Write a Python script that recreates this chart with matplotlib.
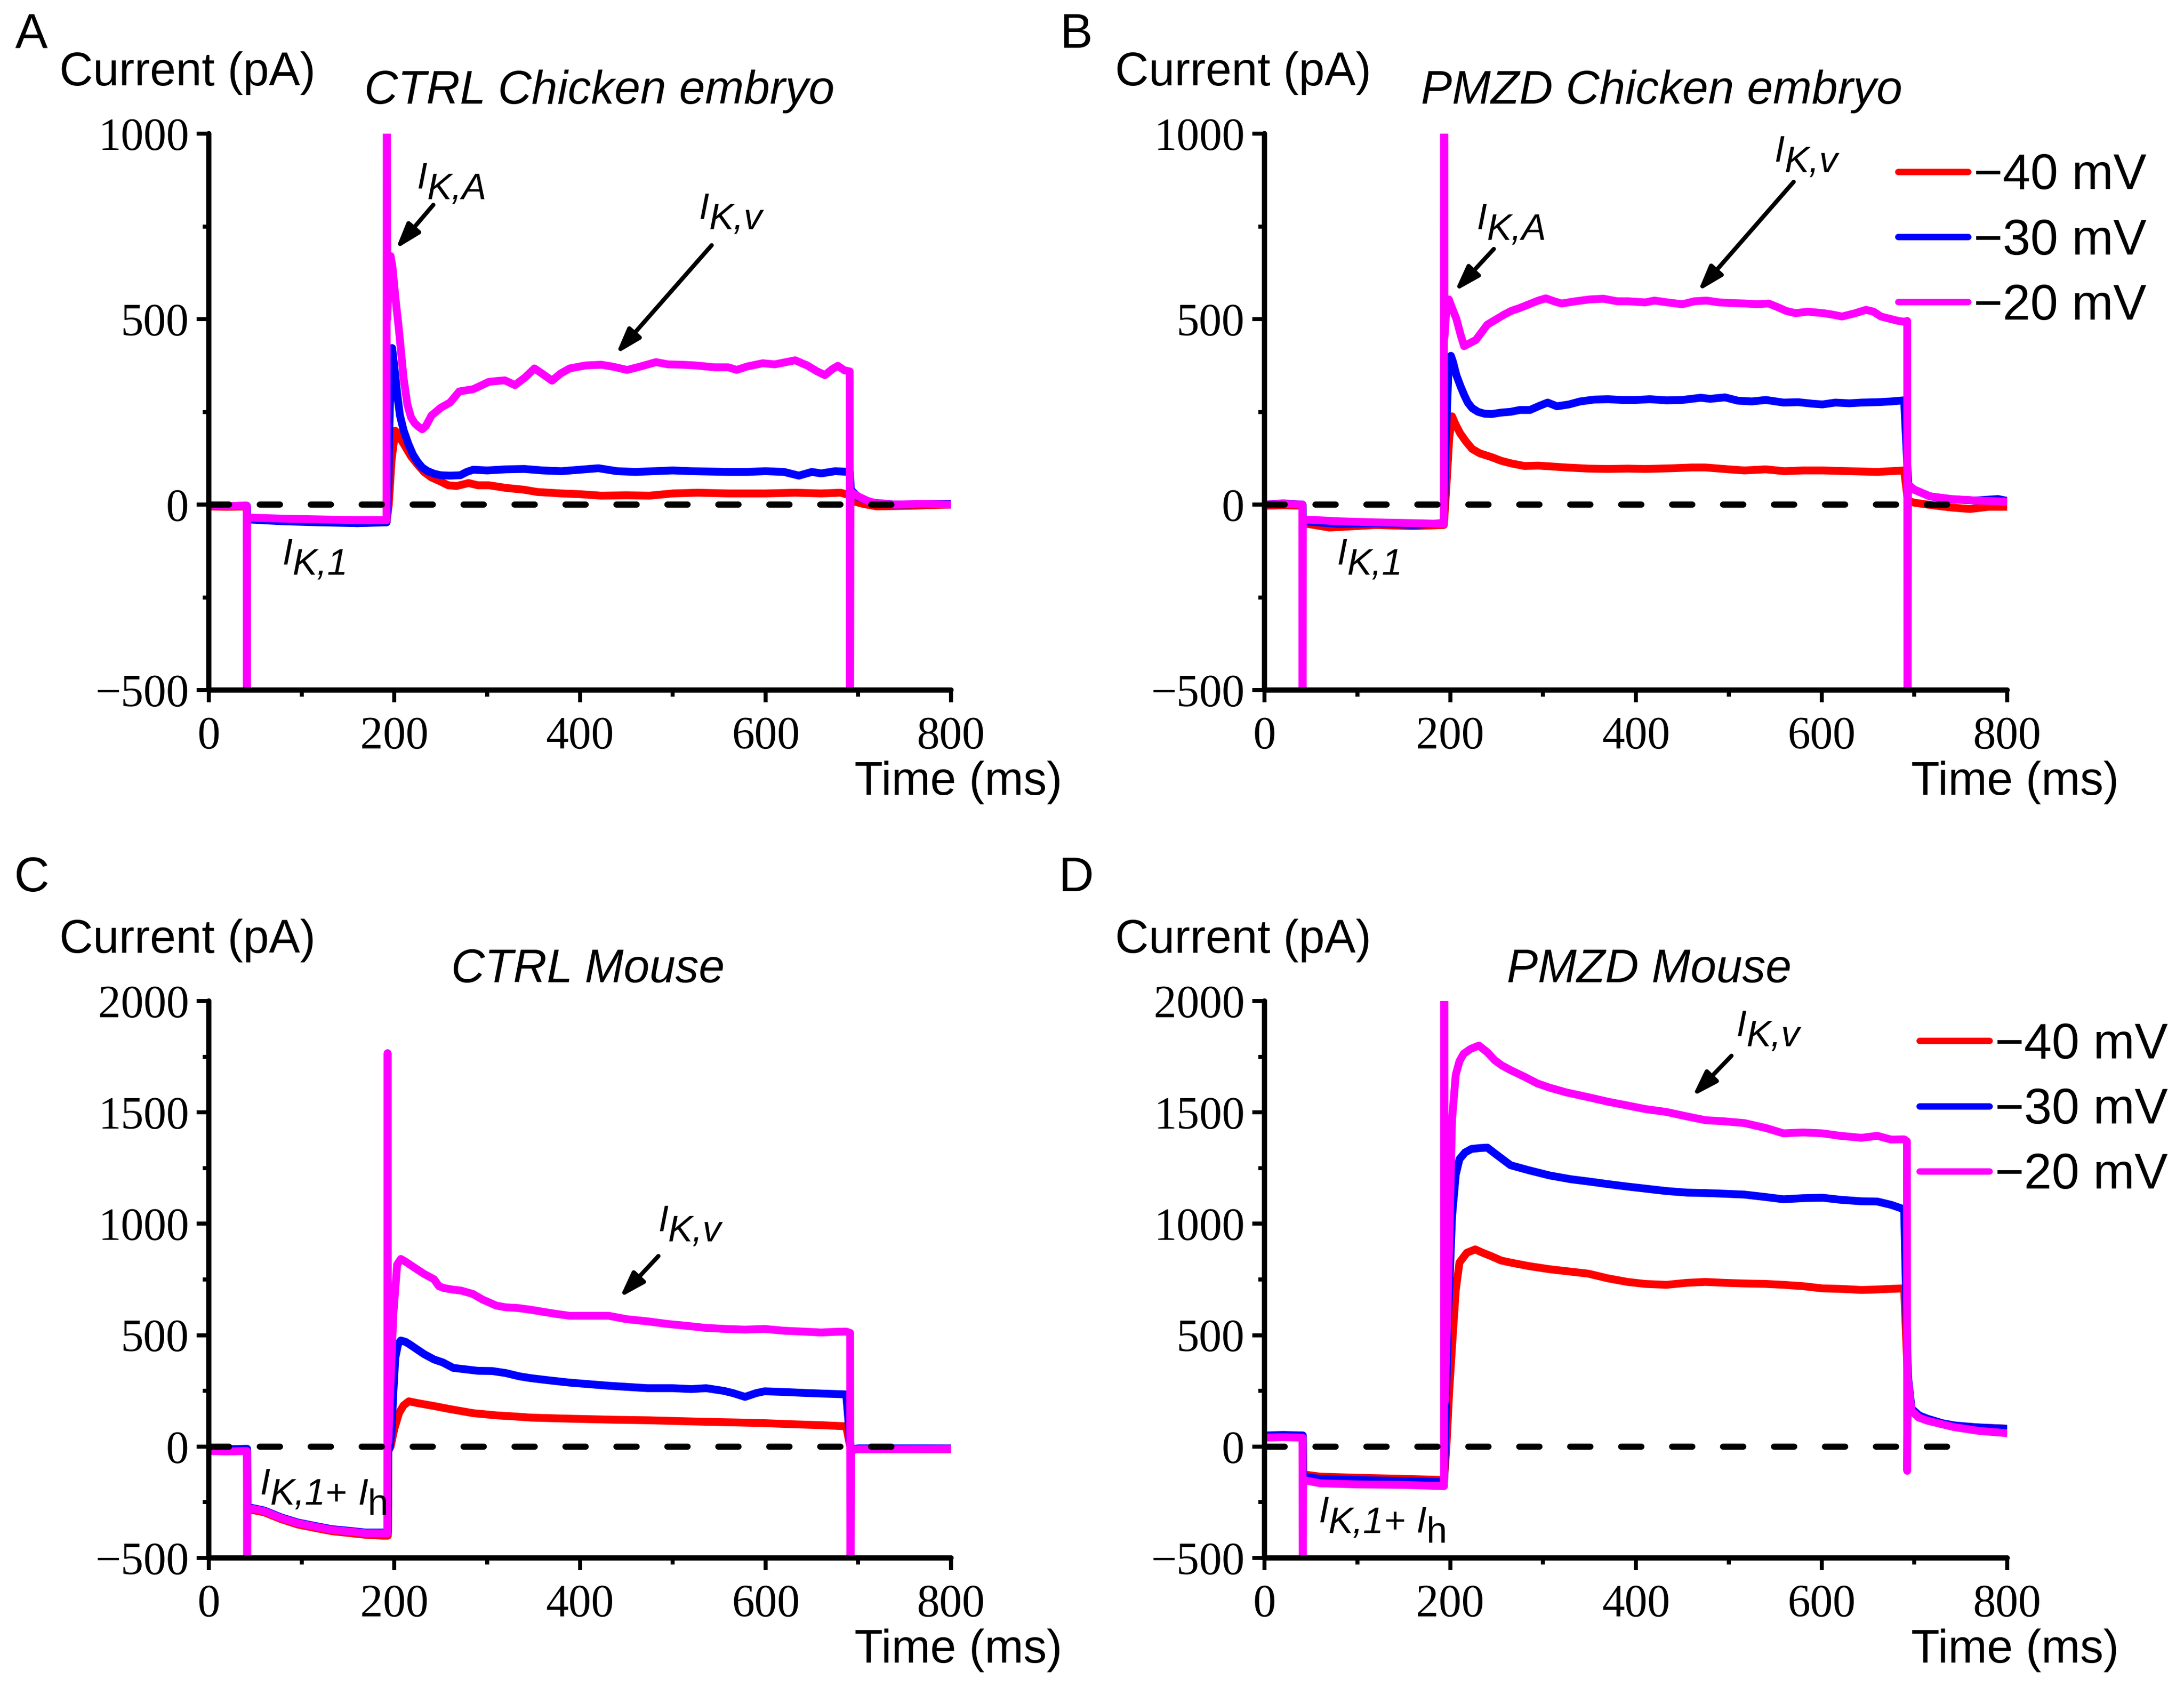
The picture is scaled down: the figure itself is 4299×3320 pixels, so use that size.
import matplotlib
matplotlib.use("Agg")
import matplotlib.pyplot as plt
from matplotlib.ticker import MultipleLocator
from matplotlib.lines import Line2D

# ---------------- data ----------------
# Panel A: CTRL chicken embryo
A_m_t = [0, 20, 40.8, 41.0, 41.4, 80, 120, 160, 191.6, 191.9, 192.3, 194, 196, 198, 201, 205, 210, 214, 218,
         222, 226, 230, 234, 240, 250, 260, 270, 285, 302, 319, 330, 341, 351, 361, 370, 379, 389, 406, 423,
         435, 451, 465, 482, 495, 510, 525, 545, 560, 569, 580, 597, 610, 632, 645, 655, 664, 672, 678, 685,
         690.8, 691.1, 691.6, 700, 710, 720, 740, 770, 800]
A_m_v = [-3, -4, -3, -900, -35, -38, -40, -42, -42, 1800, 500, 620, 670, 640, 560, 470, 340, 270, 235,
         219, 210, 203, 212, 240, 261, 275, 305, 311, 331, 335, 322, 343, 367, 350, 334, 353, 367, 375, 377,
         372, 363, 372, 384, 378, 377, 375, 370, 370, 363, 372, 381, 378, 389, 375, 360, 349, 365, 374, 362,
         359, -900, 35, 22, 10, 3, 0, 2, 0]
A_b_t = [0, 20, 41.0, 41.4, 80, 120, 160, 191.6, 193.5, 195, 197.6, 200, 203, 206, 210, 215, 220, 225, 230,
         236, 243, 250, 260, 271, 278, 285, 300, 320, 340, 360, 380, 400, 420, 440, 460, 480, 500, 520, 540,
         560, 580, 600, 620, 636, 650, 660, 675, 691, 692, 700, 715, 740, 800]
A_b_v = [-3, -4, -3, -40, -45, -48, -50, -48, 50, 250, 422, 370, 300, 241, 200, 164, 135, 115, 100,
         90, 83, 79, 78, 79, 88, 94, 92, 95, 96, 92, 90, 94, 98, 90, 88, 90, 92, 90, 89,
         88, 88, 90, 88, 78, 88, 84, 90, 88, 40, 20, 5, 0, 2]
A_r_t = [0, 20, 41.0, 41.4, 80, 120, 160, 191.6, 194, 197, 201, 205, 211.6, 218, 225, 232, 240, 250, 258,
         267, 280, 290, 302, 320, 340, 354, 380, 400, 423, 450, 475, 500, 527, 560, 600, 632, 660, 681, 691,
         693, 705, 720, 760, 800]
A_r_v = [-5, -6, -5, -38, -42, -45, -50, -47, 0, 120, 199, 185, 157, 130, 108, 88, 73, 62, 52,
         50, 58, 52, 52, 45, 40, 34, 30, 28, 24, 25, 24, 30, 32, 30, 30, 32, 30, 32, 25,
         10, 2, -5, -3, 0]

# Panel B: PMZD chicken embryo
B_m_t = [0, 20, 40.8, 41.0, 41.4, 80, 120, 160, 193.2, 193.5, 193.9, 196, 198.6, 202, 206.7, 211, 215, 221,
         227.8, 234, 240, 250, 258, 265.7, 275, 285, 295, 303, 312, 320, 335, 350, 365, 380, 392, 410, 420,
         434, 450, 463, 476, 490, 505, 518, 530, 543, 553, 562, 572, 585, 602, 612, 622, 635, 648, 656, 664,
         675, 683, 689, 692.3, 692.6, 693.2, 700, 717, 740, 766, 800]
B_m_v = [0, 2, 0, -900, -40, -45, -48, -50, -52, 1800, 450, 530, 553, 530, 501, 460, 427, 435,
         444, 465, 485, 500, 512, 522, 530, 540, 550, 556, 548, 542, 548, 553, 555, 548, 548, 545, 550,
         545, 540, 548, 550, 545, 543, 542, 540, 542, 532, 522, 516, 520, 516, 512, 507, 515, 525, 520, 507,
         500, 495, 493, 495, -900, 55, 40, 22, 15, 11, 8]
B_b_t = [0, 20, 41.0, 41.4, 80, 120, 160, 193.2, 195, 198, 200.8, 203, 206.7, 211, 215, 219, 223.7, 230,
         237, 244.5, 255, 265, 275, 286, 295, 305, 315, 328, 340, 355, 370, 385, 400, 415, 433, 450, 470,
         480, 496, 510, 525, 540, 559, 575, 590, 601, 615, 630, 643, 660, 675, 689, 693.5, 700, 717, 740,
         766, 790, 800]
B_b_v = [0, 3, 0, -45, -52, -50, -55, -50, 150, 350, 401, 385, 349, 320, 296, 275, 260, 250,
         245, 244, 248, 250, 255, 255, 265, 275, 265, 270, 278, 283, 284, 282, 282, 284, 281, 282, 288,
         285, 289, 280, 278, 282, 275, 276, 272, 270, 275, 273, 275, 276, 278, 281, 50, 40, 22, 14,
         11, 15, 10]
B_r_t = [0, 20, 41.0, 41.4, 70, 120, 160, 193.2, 196, 199, 202, 206, 210.8, 217, 223.7, 232, 244.5, 255,
         265.7, 280, 295, 307.5, 325, 349, 370, 391, 410, 440, 460, 475, 500, 517, 540, 560, 580, 601, 630,
         660, 689, 693, 700, 720, 740, 760, 780, 800]
B_r_v = [-3, -2, -3, -50, -62, -55, -58, -55, 50, 180, 238, 215, 192, 170, 150, 138, 128, 118,
         111, 104, 105, 103, 100, 97, 96, 97, 96, 98, 100, 100, 95, 92, 95, 90, 92, 92, 90,
         88, 92, 10, 5, -2, -8, -12, -6, -6]

# Panel C: CTRL mouse
C_m_t = [0, 20, 41.1, 41.3, 41.6, 47, 59.7, 78, 96, 114, 132.7, 151, 169, 187.5, 192.4, 192.7, 193.1, 193.5,
         196, 199, 203, 207, 212, 221.7, 232, 242.7, 248, 253, 262, 272, 284.6, 295, 309.7, 320, 333, 347,
         360, 375, 389, 410, 431, 450, 473, 495, 515, 535, 557, 578, 599, 620, 641, 660, 675, 687, 691.3,
         691.6, 692.3, 700, 750, 800]
C_m_v = [-20, -22, -20, -900, -279, -279, -290, -321, -344, -359, -374, -381, -389, -389, -390, 1766, 300, 20,
         300, 600, 817, 842, 830, 803, 775, 751, 720, 712, 705, 700, 685, 660, 633, 625, 622, 614,
         605, 595, 587, 587, 587, 572, 562, 550, 542, 533, 528, 525, 528, 520, 516, 512, 515, 516, 510,
         -900, -15, -12, -12, -10]
C_b_t = [0, 20, 41.3, 41.6, 47, 59.7, 78, 96, 114, 132.7, 151, 169, 187.5, 193, 193.5, 195, 197, 199, 201,
         204, 207, 212, 216, 221.7, 232, 242.7, 252, 263.5, 280, 290, 305.5, 320, 335, 347, 365, 389, 410,
         431, 450, 473, 500, 520, 536, 555, 565, 578, 590, 599, 620, 641, 660, 675, 687, 692, 700, 750, 800]
C_b_v = [-10, -12, -10, -275, -276, -287, -318, -341, -356, -371, -378, -386, -386, -385, -20, 0, 72, 250, 398,
         460, 476, 470, 460, 444, 415, 391, 378, 353, 345, 340, 339, 330, 315, 307, 298, 287, 280,
         273, 268, 262, 262, 258, 262, 250, 240, 223, 240, 248, 245, 241, 238, 236, 234, -15, -8, -8, -8]
C_r_t = [0, 20, 41.3, 41.6, 47, 59.7, 78, 96, 114, 132.7, 151, 169, 187.5, 193, 193.5, 196, 200, 205, 210,
         215.6, 225, 242.7, 260, 284.6, 310, 330, 347, 380, 410, 440, 473, 500, 536, 570, 599, 630, 660,
         687, 692, 700, 750, 800]
C_r_v = [-15, -16, -15, -285, -285, -295, -326, -350, -365, -380, -388, -396, -400, -400, -20, 0, 80, 150, 185,
         203, 195, 182, 168, 150, 140, 135, 130, 126, 123, 120, 118, 115, 111, 108, 105, 100, 96,
         91, -15, -12, -12, -12]

# Panel D: PMZD mouse
D_m_t = [0, 20, 41.0, 41.3, 41.6, 60, 100, 150, 193.4, 193.7, 194.2, 197.9, 202, 206, 210, 214.5, 222, 231,
         240, 248, 256, 265, 280, 294, 307, 325, 349, 370, 391, 410, 433, 455, 475, 495, 517, 540, 559,
         580, 601, 620, 643, 660, 675, 689, 692.0, 692.3, 693, 697, 705, 714, 730, 743, 770, 800]
D_m_v = [40, 42, 40, -900, -150, -165, -170, -172, -178, 2500, 200, 739, 1465, 1668, 1730, 1763, 1785, 1800,
         1770, 1734, 1710, 1690, 1660, 1630, 1611, 1590, 1568, 1548, 1531, 1515, 1502, 1482, 1465, 1460,
         1452, 1430, 1406, 1410, 1406, 1395, 1386, 1395, 1378, 1379, 1370, -109, 305, 159, 130, 116, 100,
         87, 70, 60]
D_b_t = [0, 20, 41.3, 41.6, 60, 100, 150, 193.4, 195, 198, 202, 206, 210, 216, 223, 232, 240, 250, 265, 285,
         307, 330, 349, 370, 391, 410, 433, 455, 475, 495, 517, 540, 559, 580, 601, 620, 643, 660, 675, 689,
         693, 697, 705, 714, 730, 743, 770, 800]
D_b_v = [50, 52, 50, -135, -145, -150, -155, -160, 100, 600, 1031, 1220, 1290, 1320, 1336, 1340, 1342, 1310,
         1263, 1240, 1217, 1200, 1190, 1178, 1167, 1158, 1147, 1140, 1138, 1135, 1131, 1120, 1110, 1115,
         1117, 1108, 1101, 1100, 1085, 1065, 320, 170, 140, 125, 105, 95, 85, 80]
D_r_t = [0, 20, 41.3, 41.6, 60, 100, 150, 193.4, 196, 199, 202, 206, 210, 218, 227, 235, 244, 255, 265, 285,
         307, 330, 349, 370, 391, 410, 433, 455, 475, 495, 517, 540, 559, 580, 601, 620, 643, 660, 675, 689,
         693, 697, 705, 714, 730, 750, 800]
D_r_v = [45, 47, 45, -125, -135, -140, -145, -150, 0, 250, 448, 700, 826, 870, 885, 870, 855, 835, 826, 810,
         796, 785, 776, 755, 739, 730, 726, 735, 739, 735, 732, 730, 726, 720, 710, 708, 703, 705, 708, 710,
         300, 160, 130, 120, 100, 90, 80]

zero_t = [0, 745]
zero_v = [0, 0]

labels = ["\u221240 mV", "\u221230 mV", "\u221220 mV"]
colors = ["#FF0000", "#0000FF", "#FF00FF"]
titles = ["CTRL Chicken embryo", "PMZD Chicken embryo", "CTRL Mouse", "PMZD Mouse"]
letters = ["A", "B", "C", "D"]
ylims = [(-500, 1000), (-500, 1000), (-500, 2000), (-500, 2000)]
xticks = [0, 200, 400, 600, 800]

panels = [
    [(A_r_t, A_r_v), (A_b_t, A_b_v), (A_m_t, A_m_v)],
    [(B_r_t, B_r_v), (B_b_t, B_b_v), (B_m_t, B_m_v)],
    [(C_r_t, C_r_v), (C_b_t, C_b_v), (C_m_t, C_m_v)],
    [(D_r_t, D_r_v), (D_b_t, D_b_v), (D_m_t, D_m_v)],
]

# ---------------- figure ----------------
W, H = 4299, 3320
fig = plt.figure(figsize=(W / 300, H / 300), dpi=300)

SANS = "Liberation Sans"
SERIF = "Liberation Serif"

rects = [
    (411 / W, 1 - 1358 / H, 1461 / W, 1095 / H),
    (2489 / W, 1 - 1358 / H, 1462 / W, 1095 / H),
    (411 / W, 1 - 3066 / H, 1461 / W, 1096 / H),
    (2489 / W, 1 - 3066 / H, 1462 / W, 1096 / H),
]
title_pos = [(0.526, 1.076), (0.535, 1.076), (0.511, 1.056), (0.518, 1.056)]
letter_pos = [(62 / W, 1 - 69 / H), (2118 / W, 1 - 69 / H), (62 / W, 1 - 1729 / H), (2118 / W, 1 - 1729 / H)]

axes = []
for i in range(4):
    ax = fig.add_axes(rects[i])
    axes.append(ax)
    for (t, v), c in zip(panels[i], colors):
        ax.plot(t, v, color=c, lw=3.7, solid_joinstyle="round", solid_capstyle="butt", zorder=2)
    ax.plot(zero_t, zero_v, color="black", lw=2.9, linestyle=(0, (3.3, 5.0)),
            dash_capstyle="round", zorder=4)
    ax.set_xlim(0, 800)
    ax.set_ylim(*ylims[i])
    ax.set_xticks(xticks)
    ax.xaxis.set_minor_locator(MultipleLocator(100))
    ax.yaxis.set_major_locator(MultipleLocator(500))
    ax.yaxis.set_minor_locator(MultipleLocator(250))
    for s in ["top", "right"]:
        ax.spines[s].set_visible(False)
    for s in ["left", "bottom"]:
        ax.spines[s].set_linewidth(2.5)
        ax.spines[s].set_zorder(5)
        ax.spines[s].set_capstyle("round")
    ax.tick_params(which="major", direction="out", length=5.8, width=1.9, pad=3.6)
    ax.tick_params(which="minor", direction="out", length=3.0, width=1.9)
    ax.tick_params(axis="x", which="major", pad=6.5)
    for lab in ax.get_xticklabels() + ax.get_yticklabels():
        lab.set_fontfamily(SERIF)
        lab.set_fontsize(21.5)
    ax.text(-0.201, 1.109, "Current (pA)", transform=ax.transAxes, ha="left", va="center",
            fontsize=22, family=SANS)
    ax.text(1.150, -0.166, "Time (ms)", transform=ax.transAxes, ha="right", va="center",
            fontsize=22, family=SANS)
    ax.text(title_pos[i][0], title_pos[i][1], titles[i], transform=ax.transAxes, ha="center",
            va="center", fontsize=22, family=SANS, style="italic")
    fig.text(letter_pos[i][0], letter_pos[i][1], letters[i], ha="center", va="center",
             fontsize=23, family=SANS)


def sublabel(ax, x, y, parts, size=17.5, drop=4.8):
    """parts: list of (text, italic, level). level 0 = main line, 1 = lowered."""
    first = parts[0]
    prev = ax.text(x, y, first[0], fontsize=size, family=SANS,
                   style="italic" if first[1] else "normal", ha="left", va="baseline", zorder=6)
    prev_level = first[2]
    for txt, it, lvl in parts[1:]:
        dy = -(lvl - prev_level) * drop
        prev = ax.annotate(txt, xy=(1, 0), xycoords=prev, xytext=(0, dy), textcoords="offset points",
                           ha="left", va="bottom", fontsize=size, family=SANS,
                           style="italic" if it else "normal", zorder=6)
        prev_level = lvl


def arrow(ax, tail, head):
    ax.annotate("", xy=head, xytext=tail,
                arrowprops=dict(arrowstyle="-|>,head_length=1.0,head_width=0.33", color="black",
                                lw=2.0, shrinkA=0, shrinkB=0, mutation_scale=10), zorder=6)


KA = [("I", True, 0), ("K,A", True, 1)]
KV = [("I", True, 0), ("K,v", True, 1)]
K1 = [("I", True, 0), ("K,1", True, 1)]
K1h = [("I", True, 0), ("K,1", True, 1), ("+ ", False, 1), ("I", True, 1), ("h", False, 2)]

# Panel A annotations
sublabel(axes[0], 224, 852, KA)
arrow(axes[0], (242, 808), (201.5, 689))
sublabel(axes[0], 528, 770, KV)
arrow(axes[0], (542, 699), (439, 406))
sublabel(axes[0], 79, -161, K1)
# Panel B annotations
sublabel(axes[1], 228.5, 742, KA)
arrow(axes[1], (247, 689), (205, 575))
sublabel(axes[1], 549, 924, KV)
arrow(axes[1], (570, 870), (467, 575))
sublabel(axes[1], 78, -161, K1)
# Panel C annotations
sublabel(axes[2], 484, 967, KV)
arrow(axes[2], (484.6, 855), (443, 669))
sublabel(axes[2], 55, -214, K1h)
# Panel D annotations
sublabel(axes[3], 508, 1843, KV)
arrow(axes[3], (503, 1754), (461, 1572))
sublabel(axes[3], 58, -341, K1h)

# Legends (B and D)
handles = [Line2D([], [], color=c, lw=3.0, solid_capstyle="round") for c in colors]
for ax, anchor in [(axes[1], (0.853, 0.965)), (axes[3], (0.8817, 0.962))]:
    ax.legend(handles, labels, loc="upper left", bbox_to_anchor=anchor, frameon=False,
              prop={"family": SANS, "size": 23.5}, handlelength=1.41, handletextpad=0.11,
              labelspacing=0.38, borderpad=0, borderaxespad=0)

fig.savefig("out.png", dpi=300)
